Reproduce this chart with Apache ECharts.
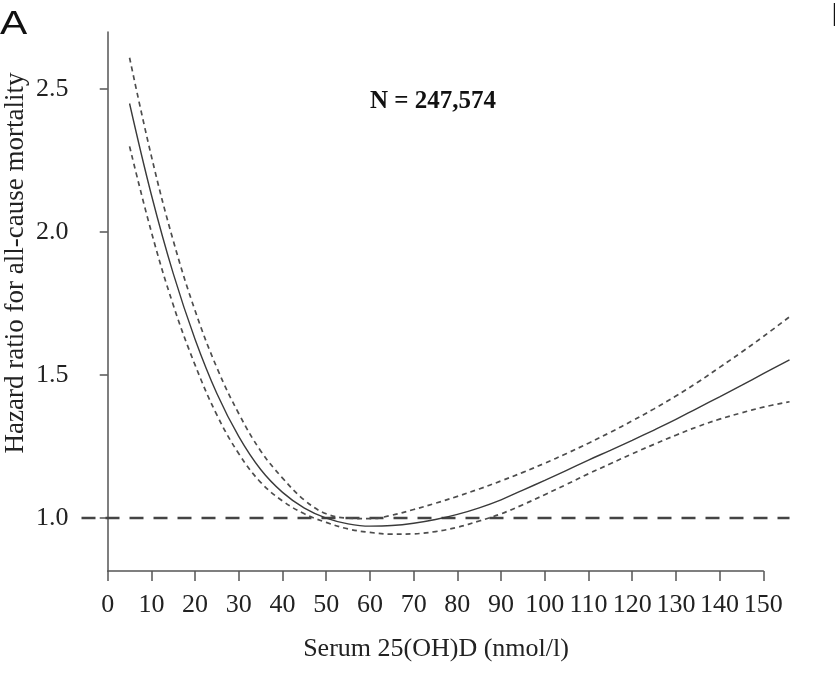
<!DOCTYPE html>
<html>
<head>
<meta charset="utf-8">
<title>Hazard ratio vs serum 25(OH)D</title>
<script src="https://cdn.jsdelivr.net/npm/echarts@6/dist/echarts.min.js"></script>
<style>
  html, body { margin: 0; padding: 0; background: #fff; }
  #chart { width: 835px; height: 682px; }
</style>
</head>
<body>
<div id="chart"></div>
<script>
// serum 25(OH)D, nmol/l
var xVals = [5, 10, 15, 20, 25, 30, 35, 40, 45, 50, 55, 60, 65, 70, 75, 80,
             85, 90, 95, 100, 105, 110, 115, 120, 125, 130, 135, 140, 145, 150, 156];
// hazard ratio (solid line)
var hr = [2.45, 2.13, 1.855, 1.625, 1.435, 1.285, 1.17, 1.09, 1.035, 1.00, 0.98, 0.972, 0.974, 0.982, 0.995, 1.013,
          1.036, 1.064, 1.098, 1.132, 1.167, 1.203, 1.237, 1.272, 1.308, 1.345, 1.385, 1.424, 1.464, 1.505, 1.553];
// upper 95% CI
var upper = [2.61, 2.265, 1.97, 1.725, 1.525, 1.365, 1.235, 1.14, 1.063, 1.015, 1.00, 0.998, 1.01, 1.03, 1.052, 1.076,
             1.102, 1.13, 1.16, 1.192, 1.226, 1.262, 1.30, 1.34, 1.382, 1.427, 1.475, 1.527, 1.58, 1.635, 1.704];
// lower 95% CI
var lower = [2.30, 2.00, 1.745, 1.535, 1.36, 1.225, 1.125, 1.06, 1.015, 0.985, 0.962, 0.95, 0.944, 0.945, 0.953, 0.968,
             0.99, 1.015, 1.047, 1.082, 1.118, 1.155, 1.19, 1.225, 1.258, 1.29, 1.32, 1.346, 1.368, 1.388, 1.407];
// reference line HR = 1
var refX = [-6, 156];
var refY = [1, 1];

var xTicks = [0, 10, 20, 30, 40, 50, 60, 70, 80, 90, 100, 110, 120, 130, 140, 150];
var yTicks = [1.0, 1.5, 2.0, 2.5];

function pairs(xs, ys) {
    var out = [];
    for (var i = 0; i < xs.length; i++) out.push([xs[i], ys[i]]);
    return out;
}

var serif = '"Liberation Serif", "Times New Roman", serif';
var sans = '"Liberation Sans", Arial, sans-serif';
var axisGrey = '#555';

var chart = echarts.init(document.getElementById('chart'));

var option = {
    animation: false,
    backgroundColor: '#fff',
    grid: [
        // plot area
        {left: 81.5, right: 28, top: 32, bottom: 111},
        // x axis only, spanning 0..150
        {left: 107.7, right: 71.7, top: 32, bottom: 111}
    ],
    xAxis: [
        {gridIndex: 0, type: 'value', min: -6, max: 160, show: false},
        {
            gridIndex: 1, type: 'value', min: 0, max: 150, interval: 10,
            axisLine: {show: true, lineStyle: {color: axisGrey, width: 1.5}},
            axisTick: {show: true, length: 10, lineStyle: {color: axisGrey, width: 1.5}},
            axisLabel: {
                show: true, margin: 21, color: '#222',
                fontFamily: serif, fontSize: 26,
                customValues: xTicks
            },
            splitLine: {show: false}
        }
    ],
    yAxis: [
        {
            gridIndex: 0, type: 'value', min: 0.815, max: 2.70,
            axisLine: {show: true, lineStyle: {color: axisGrey, width: 1.5}},
            axisTick: {show: true, length: 8, customValues: yTicks, lineStyle: {color: axisGrey, width: 1.5}},
            axisLabel: {
                show: true, margin: 13, color: '#222',
                fontFamily: serif, fontSize: 26,
                customValues: yTicks,
                formatter: function (v) { return v.toFixed(1); }
            },
            splitLine: {show: false}
        },
        {gridIndex: 1, type: 'value', min: 0.815, max: 2.70, show: false}
    ],
    graphic: [
        {type: 'text', left: 0, top: 8, scaleX: 1.2,
         style: {text: 'A', font: '34px ' + sans, fill: '#111'}},
        {type: 'text', left: 831, top: 0,
         style: {text: 'B', font: '34px ' + sans, fill: '#111'}},
        {type: 'text', x: 433, y: 102,
         style: {text: 'N = 247,574', font: 'bold 25px ' + serif, fill: '#111',
                 textAlign: 'center', textVerticalAlign: 'middle'}},
        {type: 'text', x: 436, y: 649,
         style: {text: 'Serum 25(OH)D (nmol/l)', font: '26px ' + serif, fill: '#222',
                 textAlign: 'center', textVerticalAlign: 'middle'}},
        {type: 'text', x: 16, y: 263, rotation: Math.PI / 2,
         style: {text: 'Hazard ratio for all-cause mortality', font: '27px ' + serif, fill: '#222',
                 textAlign: 'center', textVerticalAlign: 'middle'}}
    ],
    series: [
        {
            name: 'HR = 1', type: 'line', xAxisIndex: 0, yAxisIndex: 0,
            data: pairs(refX, refY), symbol: 'none', silent: true,
            lineStyle: {color: '#444', width: 2.5, type: [14, 10]}
        },
        {
            name: 'upper', type: 'line', xAxisIndex: 0, yAxisIndex: 0, smooth: 0.4,
            data: pairs(xVals, upper), symbol: 'none', silent: true,
            lineStyle: {color: '#4d4d4d', width: 1.7, type: [5, 4]}
        },
        {
            name: 'lower', type: 'line', xAxisIndex: 0, yAxisIndex: 0, smooth: 0.4,
            data: pairs(xVals, lower), symbol: 'none', silent: true,
            lineStyle: {color: '#4d4d4d', width: 1.7, type: [5, 4]}
        },
        {
            name: 'HR', type: 'line', xAxisIndex: 0, yAxisIndex: 0, smooth: 0.4,
            data: pairs(xVals, hr), symbol: 'none', silent: true,
            lineStyle: {color: '#3a3a3a', width: 1.4}
        }
    ]
};

chart.setOption(option);

window.addEventListener('resize', function () {
    chart.resize();
});
</script>
</body>
</html>
